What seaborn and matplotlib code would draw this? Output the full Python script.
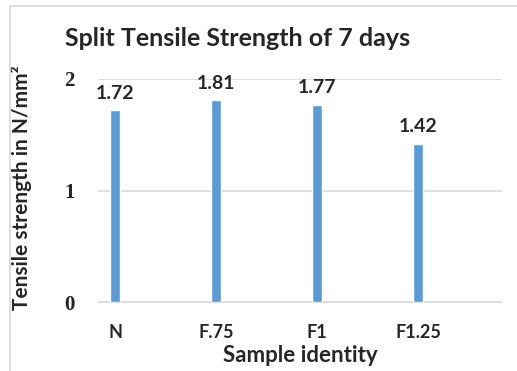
import matplotlib
matplotlib.use("Agg")
import matplotlib.pyplot as plt
import seaborn as sns
import pandas as pd
from matplotlib.patches import Rectangle

categories = ["N", "F.75", "F1", "F1.25"]
values = [1.72, 1.81, 1.77, 1.42]
yticks = [0, 1, 2]

sns.set_theme(style="white")
plt.rcParams['font.family'] = ['Lato', 'DejaVu Sans']

df = pd.DataFrame({"sample": categories, "value": values})

fig = plt.figure(figsize=(5.17, 3.71), dpi=100)
ax = fig.add_axes([98/517, (371-302)/371, (502-98)/517, (302-79)/371])

sns.barplot(data=df, x="sample", y="value", color="#5b9bd5", width=0.1,
            saturation=1, ax=ax, zorder=3)

ax.set_xlim(-0.17, 3.83)
ax.set_ylim(0, 2)
ax.set_yticks(yticks)
ax.set_yticklabels([str(t) for t in yticks], family="Liberation Serif",
                   fontweight="bold", fontsize=15)
ax.tick_params(axis="y", length=0, pad=17)
ax.tick_params(axis="x", length=0, pad=16)
for lbl in ax.get_xticklabels():
    lbl.set_fontweight("bold")
    lbl.set_fontsize(13)
    lbl.set_color("#262626")
for lbl in ax.get_yticklabels():
    lbl.set_color("#262626")
ax.yaxis.grid(True, color="#d9d9d9", linewidth=1.2, zorder=0)
ax.set_axisbelow(True)
for s in ["top", "right", "left"]:
    ax.spines[s].set_visible(False)
ax.spines["bottom"].set_color("#d9d9d9")
ax.spines["bottom"].set_linewidth(1.2)

for i, v in enumerate(values):
    ax.annotate(f"{v:.2f}", (i, v), xytext=(0, 6), textcoords="offset points",
                ha="center", va="bottom", fontweight="bold", fontsize=14,
                color="#262626", clip_on=False)

ax.set_xlabel("Sample identity", fontweight="bold", fontsize=16, color="#262626")
ax.xaxis.set_label_coords((300-98)/404, -(355-302)/223)
ax.set_ylabel("Tensile strength in N/mm²", fontweight="bold", fontsize=15,
              color="#262626")
ax.yaxis.set_label_coords((22-98)/404, (302-188)/223)
ax.yaxis.label.set_va("center")
ax.xaxis.label.set_va("center")

fig.text(65/517, 1 - 38/371, "Split Tensile Strength of 7 days", fontweight="bold",
         fontsize=18, color="#262626", ha="left", va="center")

fig.patches.append(Rectangle((10/517, -0.01), 1.0, 1 - 6/371 + 0.01,
                             transform=fig.transFigure, fill=False,
                             edgecolor="#d9d9d9", linewidth=1.2))

fig.savefig("out.png", dpi=100)
